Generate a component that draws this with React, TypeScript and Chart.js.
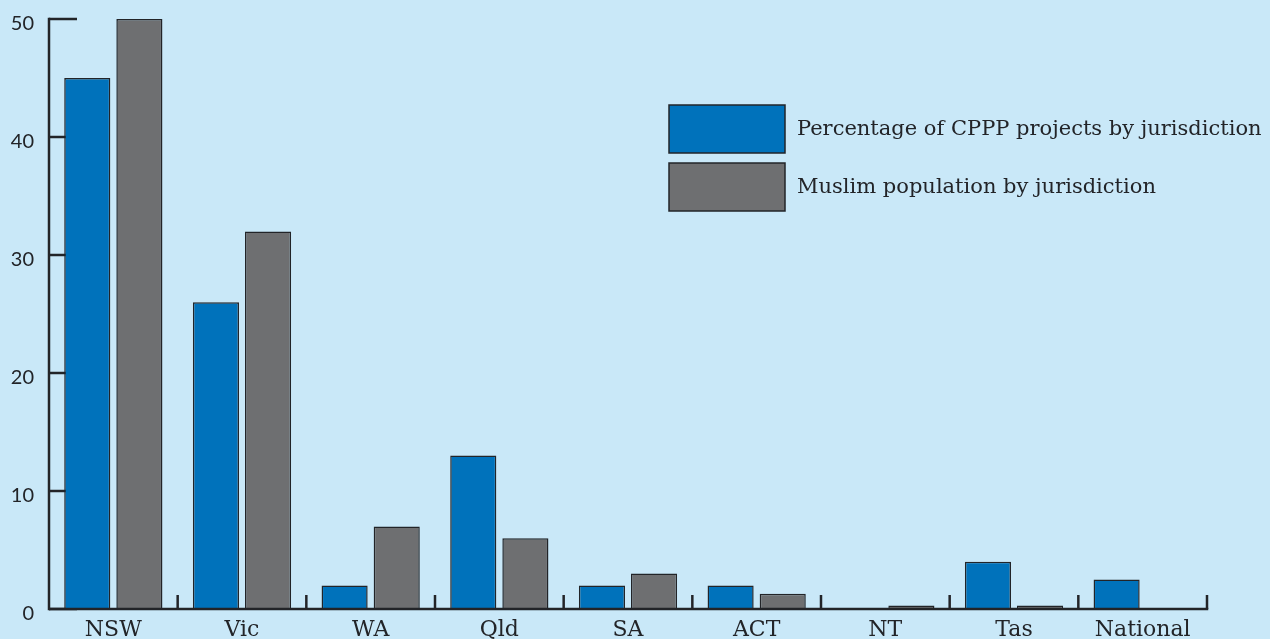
import React, { useEffect, useRef } from "react";
import { Chart, registerables } from "chart.js";

Chart.register(...registerables);

const categories = ["NSW", "Vic", "WA", "Qld", "SA", "ACT", "NT", "Tas", "National"];
const cpppProjects = [45, 26, 2, 13, 2, 2, 0, 4, 2.5];
const muslimPopulation = [50, 32, 7, 6, 3, 1.3, 0.3, 0.3, 0];
const seriesLabels = ["Percentage of CPPP projects by jurisdiction", "Muslim population by jurisdiction"];
const yTicks = [0, 10, 20, 30, 40, 50];

const BG = "#c9e8f8";
const BLUE = "#0072bb";
const GREY = "#6e6f71";
const INK = "#222428";
const SERIF = "'DejaVu Serif', serif";

const axesPlugin = {
  id: "customAxes",
  beforeDatasetsDraw(chart: any) {
    const { ctx, chartArea, scales } = chart;
    const { left } = chartArea;
    ctx.save();
    ctx.strokeStyle = INK;
    ctx.lineWidth = 2.5;
    ctx.lineCap = "butt";
    yTicks.forEach((v) => {
      const y = scales.y.getPixelForValue(v);
      ctx.beginPath();
      ctx.moveTo(left, y);
      ctx.lineTo(left + 28, y);
      ctx.stroke();
    });
    ctx.restore();
  },
  afterDatasetsDraw(chart: any) {
    const { ctx, chartArea, scales } = chart;
    const { left, right, bottom } = chartArea;
    ctx.save();
    ctx.strokeStyle = INK;
    ctx.lineWidth = 2.5;
    ctx.beginPath();
    ctx.moveTo(left, scales.y.getPixelForValue(50) - 1.25);
    ctx.lineTo(left, bottom + 1.25);
    ctx.stroke();
    ctx.beginPath();
    ctx.moveTo(left, bottom);
    ctx.lineTo(right + 1.25, bottom);
    ctx.stroke();
    const half = (scales.x.getPixelForValue(1) - scales.x.getPixelForValue(0)) / 2;
    for (let i = 1; i <= categories.length; i++) {
      const x = scales.x.getPixelForValue(i) - half;
      ctx.beginPath();
      ctx.moveTo(x, bottom);
      ctx.lineTo(x, bottom - 14);
      ctx.stroke();
    }
    const datasets = chart.data.datasets;
    const lx = 669;
    const ly = 105;
    datasets.forEach((ds: any, i: number) => {
      const y = ly + i * 58;
      ctx.fillStyle = ds.backgroundColor;
      ctx.fillRect(lx, y, 116, 48);
      ctx.lineWidth = 1.5;
      ctx.strokeStyle = INK;
      ctx.strokeRect(lx, y, 116, 48);
      ctx.fillStyle = INK;
      ctx.font = `21px ${SERIF}`;
      ctx.textBaseline = "middle";
      ctx.textAlign = "left";
      ctx.fillText(ds.label, lx + 128, y + 25);
    });
    ctx.restore();
  },
};

export default function App() {
  const canvasRef = useRef<HTMLCanvasElement | null>(null);

  useEffect(() => {
    document.body.style.margin = "0";
    document.body.style.background = BG;
    const canvas = canvasRef.current!;
    const chart = new Chart(canvas, {
      type: "bar",
      data: {
        labels: categories,
        datasets: [
          {
            label: seriesLabels[0],
            data: cpppProjects,
            backgroundColor: BLUE,
            borderColor: INK,
            borderWidth: 1.5,
            borderSkipped: "bottom",
          },
          {
            label: seriesLabels[1],
            data: muslimPopulation,
            backgroundColor: GREY,
            borderColor: INK,
            borderWidth: 1.5,
            borderSkipped: "bottom",
          },
        ],
      },
      options: {
        animation: false,
        responsive: false,
        maintainAspectRatio: false,
        layout: { padding: { top: 14, right: 63, left: 0, bottom: 0 } },
        plugins: {
          legend: { display: false },
          tooltip: { enabled: false },
        },
        datasets: {
          bar: { categoryPercentage: 0.81, barPercentage: 0.885 },
        },
        scales: {
          x: {
            offset: true,
            grid: { display: false },
            border: { display: false },
            ticks: {
              font: { family: SERIF, size: 22 },
              color: INK,
              padding: 0,
              maxRotation: 0,
              autoSkip: false,
            },
            afterFit(scale: any) {
              scale.height = 30;
            },
          },
          y: {
            min: 0,
            max: 50,
            grid: { display: false },
            border: { display: false },
            ticks: {
              stepSize: 10,
              font: { family: "Lato, sans-serif", size: 20 },
              color: INK,
              padding: 7,
              labelOffset: 5,
            },
            afterFit(scale: any) {
              scale.width = 49;
            },
          },
        },
      },
      plugins: [axesPlugin],
    });
    return () => chart.destroy();
  }, []);

  return (
    <div style={{ width: 1270, height: 639, background: BG }}>
      <canvas ref={canvasRef} width={1270} height={639} style={{ display: "block" }} />
    </div>
  );
}
